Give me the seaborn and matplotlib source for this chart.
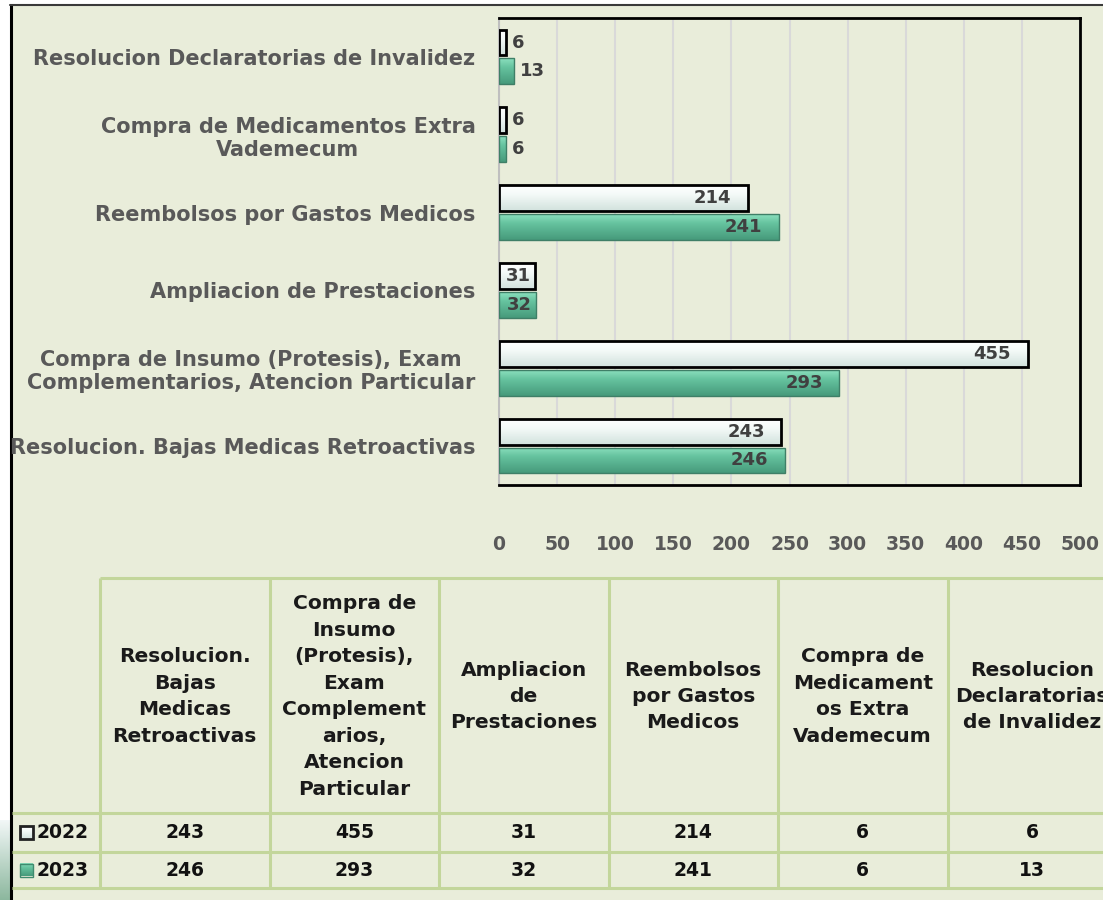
import numpy as np
import pandas as pd
import matplotlib
matplotlib.use("Agg")
import matplotlib.pyplot as plt
import seaborn as sns
from matplotlib.patches import Rectangle
from matplotlib.colors import to_rgb

# ---------------- data ----------------
categories = [
    "Resolucion. Bajas Medicas Retroactivas",
    "Compra de Insumo (Protesis), Exam Complementarios, Atencion Particular",
    "Ampliacion de Prestaciones",
    "Reembolsos por Gastos Medicos",
    "Compra de Medicamentos Extra Vademecum",
    "Resolucion Declaratorias de Invalidez",
]
axis_labels = [
    "Resolucion. Bajas Medicas Retroactivas",
    "Compra de Insumo (Protesis), Exam\nComplementarios, Atencion Particular",
    "Ampliacion de Prestaciones",
    "Reembolsos por Gastos Medicos",
    "Compra de Medicamentos Extra\nVademecum",
    "Resolucion Declaratorias de Invalidez",
]
table_headers = [
    "Resolucion.\nBajas\nMedicas\nRetroactivas",
    "Compra de\nInsumo\n(Protesis),\nExam\nComplement\narios,\nAtencion\nParticular",
    "Ampliacion\nde\nPrestaciones",
    "Reembolsos\npor Gastos\nMedicos",
    "Compra de\nMedicament\nos Extra\nVademecum",
    "Resolucion\nDeclaratorias\nde Invalidez",
]
years = ["2022", "2023"]
values_2022 = [243, 455, 31, 214, 6, 6]
values_2023 = [246, 293, 32, 241, 6, 13]
x_ticks = [0, 50, 100, 150, 200, 250, 300, 350, 400, 450, 500]

# ---------------- style ----------------
BG = "#E9EDDA"
C2022 = "#E4EFEC"
C2023 = "#5DB894"
GRAD = {0: ["#FFFFFF", "#F4FAF8", "#D2E2DD"], 1: ["#8BE0BE", "#66C39F", "#469A7B"]}
GRIDC = "#C3D69B"
LABELC = "#595959"

sns.set_theme(style="white")
plt.rcParams["font.family"] = ["DejaVu Sans"]

df = pd.DataFrame({
    "category": categories * 2,
    "year": [years[0]] * len(categories) + [years[1]] * len(categories),
    "value": values_2022 + values_2023,
})

W, H = 1103, 900
fig = plt.figure(figsize=(W / 100, H / 100), dpi=100, facecolor="white")

# background / frame / table axes (pixel coordinates)
bg = fig.add_axes([0, 0, 1, 1])
bg.set_xlim(0, W)
bg.set_ylim(H, 0)
bg.axis("off")
bg.set_zorder(0)
bg.add_patch(Rectangle((10, 5), W, H, facecolor=BG, edgecolor="none"))
g = np.linspace(0, 1, 100).reshape(-1, 1)
bg.imshow(np.dstack([0.55 + 0.4 * (1 - g), 0.72 + 0.25 * (1 - g), 0.62 + 0.35 * (1 - g)]),
          extent=(0, 10, 900, 820), aspect="auto")
bg.plot([11, 11], [5, H], color="black", lw=2.2, solid_capstyle="butt")
bg.plot([10, W], [5, 5], color="#3a3a3a", lw=1.5)
bg.set_xlim(0, W)
bg.set_ylim(H, 0)

# ---------------- bar chart ----------------
ax = fig.add_axes([499 / W, 1 - 485 / H, 581 / W, 467 / H])
ax.set_zorder(1)
ax.patch.set_alpha(0)
sns.barplot(data=df, y="category", x="value", hue="year", order=categories[::-1],
            hue_order=years, palette=[C2022, C2023], orient="h", width=0.74, gap=0.1,
            saturation=1, legend=False, ax=ax, zorder=3)
ylim = ax.get_ylim()


def grad_img(cols, n=60):
    c0, c1, c2 = [np.array(to_rgb(c)) for c in cols]
    t = np.linspace(0, 1, n)
    rows = []
    for v in t:
        if v < 0.35:
            rows.append(c0 + (c1 - c0) * v / 0.35)
        else:
            rows.append(c1 + (c2 - c1) * (v - 0.35) / 0.65)
    return np.array(rows).reshape(n, 1, 3)


edge_styles = [("black", 2.0), ("#3F7F67", 1.0)]
for k, (cont, (ec, lw)) in enumerate(zip(ax.containers, edge_styles)):
    img = grad_img(GRAD[k])
    for p in cont:
        p.set_edgecolor("none")
        x0, y0, w, h = p.get_x(), p.get_y(), p.get_width(), p.get_height()
        im = ax.imshow(img, extent=(x0, x0 + w, y0 + h, y0), aspect="auto", zorder=3.5,
                       interpolation="bilinear")
        im.set_clip_path(p)
        ax.add_patch(Rectangle((x0, y0), w, h, facecolor="none", edgecolor=ec, lw=lw, zorder=4))
        yc = y0 + h / 2
        if w > 100:
            off, ha = -12, "right"
        elif w > 20:
            off, ha = -3, "right"
        else:
            off, ha = 4, "left"
        ax.annotate(f"{w:.0f}", (w, yc), xytext=(off, 0), textcoords="offset points",
                    ha=ha, va="center", fontsize=13, fontweight="bold",
                    color="#404040", zorder=5)

ax.set_xlim(0, 500)
ax.set_ylim(ylim)
ax.set_xticks(x_ticks)
ax.set_xticklabels([str(t) for t in x_ticks], fontweight="bold")
ax.set_yticks(range(len(categories)))
ax.set_yticklabels(axis_labels[::-1], multialignment="center", fontweight="bold")
ax.set_xlabel("")
ax.set_ylabel("")
ax.grid(axis="x", color="#D9D9D9", lw=1.5)
ax.grid(axis="y", visible=False)
ax.set_axisbelow(True)
for s in ["top", "right", "bottom"]:
    ax.spines[s].set_color("black")
    ax.spines[s].set_linewidth(2)
    ax.spines[s].set_visible(True)
ax.spines["left"].set_color("#BFBFBF")
ax.spines["left"].set_linewidth(1.5)
ax.tick_params(axis="x", length=0, pad=36, labelsize=13.5, labelcolor=LABELC)
ax.tick_params(axis="y", length=0, pad=17, labelsize=15, labelcolor=LABELC)

# ---------------- data table ----------------
col_edges = [100 + i * 169.5 for i in range(len(categories) + 1)]
y_head_top, y_head_bot, y_row1, y_row2 = 578, 813, 852, 888
lkw = dict(color=GRIDC, lw=2.2, solid_capstyle="butt")
bg.plot([100, W], [y_head_top, y_head_top], **lkw)
for yy in [y_head_bot, y_row1, y_row2]:
    bg.plot([12, W], [yy, yy], **lkw)
for xx in col_edges:
    bg.plot([xx, xx], [y_head_top, y_row2], **lkw)

for i, hdr in enumerate(table_headers):
    xc = (col_edges[i] + col_edges[i + 1]) / 2
    bg.text(xc, (y_head_top + y_head_bot) / 2 + 1, hdr, ha="center", va="center",
            multialignment="center", fontsize=14.6, fontweight="bold", color="#1a1a1a",
            linespacing=1.5)
    bg.text(xc, (y_head_bot + y_row1) / 2, str(values_2022[i]), ha="center", va="center",
            fontsize=13.5, fontweight="bold", color="#111111")
    bg.text(xc, (y_row1 + y_row2) / 2, str(values_2023[i]), ha="center", va="center",
            fontsize=13.5, fontweight="bold", color="#111111")

row_y = [(y_head_bot + y_row1) / 2, (y_row1 + y_row2) / 2]
row_ec = ["#222222", "#3F8A6E"]
for k, (yr, yy, ec) in enumerate(zip(years, row_y, row_ec)):
    bg.imshow(grad_img(GRAD[k]), extent=(20, 33, yy + 6.5, yy - 6.5), aspect="auto", zorder=2)
    bg.add_patch(Rectangle((20, yy - 6.5), 13, 13, facecolor="none", edgecolor=ec,
                           lw=2 if k == 0 else 1, zorder=3))
    bg.text(37, yy, yr, ha="left", va="center", fontsize=13.5, fontweight="bold", color="#111111")
bg.set_xlim(0, W)
bg.set_ylim(H, 0)

fig.savefig("out.png", dpi=100, facecolor="white")
